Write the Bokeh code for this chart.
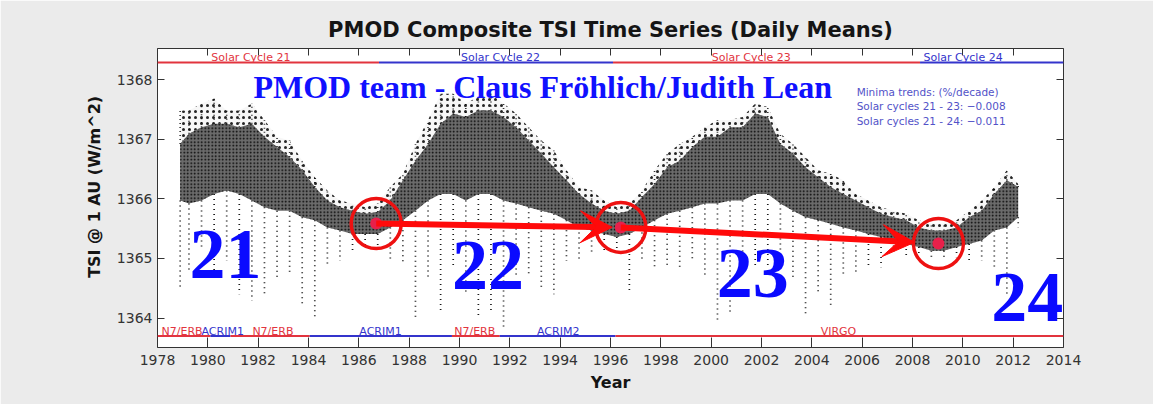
from bokeh.plotting import figure
from bokeh.models import Range1d, LinearAxis, FixedTicker, Label, Arrow, VeeHead, ColumnDataSource
from bokeh.embed import file_html
from bokeh.resources import INLINE

# ---------------- data ----------------
years = [1978.9, 1979.25, 1979.75, 1980.25, 1980.75, 1981.25, 1981.75, 1982.25, 1982.75,
         1983.25, 1983.75, 1984.25, 1984.75, 1985.25, 1985.75, 1986.25, 1986.75, 1987.25,
         1987.75, 1988.25, 1988.75, 1989.25, 1989.75, 1990.25, 1990.75, 1991.25, 1991.75,
         1992.25, 1992.75, 1993.25, 1993.75, 1994.25, 1994.75, 1995.25, 1995.75, 1996.25,
         1996.75, 1997.25, 1997.75, 1998.25, 1998.75, 1999.25, 1999.75, 2000.25, 2000.75,
         2001.25, 2001.75, 2002.25, 2002.75, 2003.25, 2003.75, 2004.25, 2004.75, 2005.25,
         2005.75, 2006.25, 2006.75, 2007.25, 2007.75, 2008.25, 2008.75, 2009.25, 2009.75,
         2010.25, 2010.75, 2011.25, 2011.75, 2012.2]
# highest scattered daily values
tsi_top = [1367.48, 1367.48, 1367.60, 1367.68, 1367.48, 1367.48, 1367.60, 1367.32, 1367.04,
           1366.98, 1366.64, 1366.36, 1366.14, 1365.97, 1365.92, 1365.86, 1365.92, 1366.20,
           1366.42, 1366.92, 1367.32, 1367.76, 1367.76, 1367.60, 1367.71, 1367.76, 1367.60,
           1367.43, 1367.20, 1366.98, 1366.81, 1366.48, 1366.20, 1366.14, 1365.97, 1365.86,
           1365.92, 1366.14, 1366.48, 1366.76, 1366.92, 1367.04, 1367.20, 1367.32, 1367.32,
           1367.37, 1367.60, 1367.54, 1367.09, 1366.92, 1366.70, 1366.48, 1366.42, 1366.31,
           1366.08, 1365.97, 1365.86, 1365.80, 1365.75, 1365.64, 1365.58, 1365.58, 1365.64,
           1365.80, 1365.97, 1366.20, 1366.48, 1366.25]
# upper edge of the dense band
tsi_hi = [1366.92, 1367.09, 1367.20, 1367.26, 1367.26, 1367.20, 1367.26, 1367.04, 1366.87,
          1366.70, 1366.48, 1366.20, 1365.97, 1365.86, 1365.80, 1365.75, 1365.78, 1365.97,
          1366.31, 1366.64, 1366.92, 1367.26, 1367.43, 1367.37, 1367.48, 1367.48, 1367.37,
          1367.20, 1366.98, 1366.76, 1366.53, 1366.31, 1366.08, 1365.92, 1365.80, 1365.75,
          1365.80, 1366.03, 1366.25, 1366.53, 1366.64, 1366.87, 1367.04, 1367.04, 1367.20,
          1367.20, 1367.43, 1367.37, 1366.92, 1366.76, 1366.53, 1366.36, 1366.20, 1366.08,
          1365.97, 1365.86, 1365.75, 1365.69, 1365.64, 1365.52, 1365.47, 1365.47, 1365.52,
          1365.69, 1365.80, 1366.08, 1366.31, 1366.20]
# lower edge of the dense band
tsi_lo = [1365.97, 1365.92, 1365.97, 1366.08, 1366.14, 1366.08, 1365.97, 1365.86, 1365.80,
          1365.80, 1365.69, 1365.64, 1365.52, 1365.47, 1365.41, 1365.41, 1365.41, 1365.52,
          1365.64, 1365.80, 1365.97, 1366.08, 1366.08, 1365.97, 1366.08, 1366.08, 1365.97,
          1365.92, 1365.86, 1365.80, 1365.75, 1365.64, 1365.52, 1365.47, 1365.41, 1365.36,
          1365.41, 1365.52, 1365.64, 1365.75, 1365.80, 1365.86, 1365.92, 1365.92, 1365.97,
          1365.97, 1366.08, 1366.08, 1365.92, 1365.80, 1365.69, 1365.64, 1365.58, 1365.52,
          1365.47, 1365.41, 1365.36, 1365.30, 1365.24, 1365.19, 1365.13, 1365.13, 1365.19,
          1365.24, 1365.30, 1365.47, 1365.52, 1365.69]
# deepest sunspot dips
tsi_dip = [1364.46, 1364.80, 1365.19, 1364.74, 1364.96, 1364.40, 1364.29, 1364.40, 1364.68,
           1364.74, 1364.18, 1364.01, 1364.85, 1364.96, 1365.13, 1365.19, 1365.19, 1364.96,
           1364.91, 1363.96, 1364.68, 1364.12, 1364.85, 1364.40, 1364.01, 1364.07, 1363.84,
           1364.68, 1364.74, 1364.46, 1364.40, 1364.96, 1364.96, 1365.08, 1365.13, 1365.13,
           1364.46, 1364.96, 1364.85, 1364.85, 1364.85, 1364.96, 1364.68, 1363.96, 1364.07,
           1364.74, 1364.85, 1364.85, 1364.85, 1364.63, 1364.07, 1364.40, 1364.18, 1364.74,
           1364.74, 1364.85, 1364.85, 1365.08, 1365.02, 1365.08, 1365.02, 1365.02, 1365.02,
           1364.96, 1364.96, 1364.85, 1364.40, 1365.52]

# solar minima (red circles)
min_years = [1986.69, 1996.41, 2009.03]
min_tsi = [1365.585, 1365.52, 1365.25]

# solar cycles (top bar)
cycle_names = ["Solar Cycle 21", "Solar Cycle 22", "Solar Cycle 23", "Solar Cycle 24"]
cycle_start = [1978.0, 1986.8, 1996.1, 2008.3]
cycle_end = [1986.8, 1996.1, 2008.3, 2014.0]

# instruments (bottom bar)
inst_names = ["N7/ERB", "ACRIM1", "N7/ERB", "ACRIM1", "N7/ERB", "ACRIM2", "VIRGO"]
inst_start = [1978.0, 1980.1, 1980.9, 1984.05, 1989.7, 1991.6, 1996.2]
inst_end = [1980.1, 1980.9, 1984.05, 1989.7, 1991.6, 1996.2, 2014.0]

cycle_numbers = ["21", "22", "23", "24"]
x_ticks = [1978, 1980, 1982, 1984, 1986, 1988, 1990, 1992, 1994, 1996, 1998, 2000,
           2002, 2004, 2006, 2008, 2010, 2012, 2014]
y_ticks = [1364, 1365, 1366, 1367, 1368]

# ---------------- styles ----------------
RED = "#e2343e"
BLUE = "#3434cc"
SANS = "DejaVu Sans"
SERIF = "Liberation Serif"
NB = "\u00a0"

p = figure(width=1153, height=404, x_range=Range1d(1978, 2014),
           y_range=Range1d(1363.506, 1368.521), output_backend="svg",
           toolbar_location=None, background_fill_color="white",
           border_fill_color="#ebebeb", min_border_left=157, min_border_right=90,
           min_border_top=48, min_border_bottom=57)
p.grid.visible = False
p.outline_line_color = "#333333"
p.outline_line_width = 1

p.title.text = "PMOD Composite TSI Time Series (Daily Means)"
p.title.text_font = SANS
p.title.text_font_size = "21px"
p.title.text_font_style = "bold"
p.title.text_color = "#151515"
p.title.align = "center"
p.title.vertical_align = "top"

for ax in (p.xaxis[0], p.yaxis[0]):
    ax.major_label_text_font = SANS
    ax.major_label_text_font_size = "14px"
    ax.major_label_text_color = "#333333"
    ax.axis_label_text_font = SANS
    ax.axis_label_text_font_style = "bold"
    ax.axis_label_text_color = "#151515"
    ax.minor_tick_line_color = None
    ax.major_tick_out = 0
    ax.axis_line_color = None
    ax.major_tick_line_color = "#333333"

p.xaxis.ticker = FixedTicker(ticks=x_ticks)
p.xaxis.major_tick_in = 10
p.xaxis.major_label_standoff = 7
p.xaxis.axis_label = "Year"
p.xaxis.axis_label_text_font_size = "16px"
p.xaxis.axis_label_standoff = 5

p.yaxis.ticker = FixedTicker(ticks=y_ticks)
p.yaxis.major_tick_in = 7
p.yaxis.major_label_standoff = 5
p.yaxis.axis_label = NB * 4 + "TSI @ 1 AU (W/m^2)"
p.yaxis.axis_label_text_font_size = "16px"
p.yaxis.axis_label_standoff = 10

top_ax = LinearAxis(ticker=FixedTicker(ticks=x_ticks), major_tick_in=7, major_tick_out=0,
                    minor_tick_line_color=None, axis_line_color=None,
                    major_label_text_font_size="0px", major_tick_line_color="#333333")
p.add_layout(top_ax, "above")
right_ax = LinearAxis(ticker=FixedTicker(ticks=y_ticks), major_tick_in=7, major_tick_out=0,
                      minor_tick_line_color=None, axis_line_color=None,
                      major_label_text_font_size="0px", major_tick_line_color="#333333")
p.add_layout(right_ax, "right")

src = ColumnDataSource(dict(x=years, top=tsi_top, hi=tsi_hi, lo=tsi_lo, dip=tsi_dip))

# sparse upper scatter
p.varea(x="x", y1="hi", y2="top", source=src, fill_alpha=0.03, fill_color="black",
        hatch_pattern="dot", hatch_color="black", hatch_scale=6, hatch_weight=1.5,
        hatch_alpha=0.85)
p.segment(x0="x", y0="hi", x1="x", y1="top", source=src, line_color="black",
          line_width=1.6, line_dash="1 3", line_alpha=0.8)
# dense band of daily means
p.varea(x="x", y1="lo", y2="hi", source=src, fill_color="black", fill_alpha=0.58,
        hatch_pattern="dot", hatch_color="black", hatch_scale=3.5, hatch_weight=1.8,
        hatch_alpha=1.0)
# sunspot dips
p.segment(x0="x", y0="lo", x1="x", y1="dip", source=src, line_color="black",
          line_width=1.7, line_dash="1 4", line_alpha=0.9)

# top cycle bar
p.segment(x0=cycle_start, y0=[1368.286] * 4, x1=cycle_end, y1=[1368.286] * 4,
          line_color=[RED, BLUE, RED, BLUE], line_width=2)
cyc_label_x = [1980.14, 1990.06, 2000.02, 2008.44]
for name, x, c in zip(cycle_names, cyc_label_x, [RED, BLUE, RED, BLUE]):
    p.add_layout(Label(x=x, y=1368.366, text=name, text_font=SANS, text_font_size="11px",
                       text_color=c, text_baseline="middle"))

# bottom instrument bar
inst_colors = [RED, BLUE, RED, BLUE, RED, BLUE, RED]
p.segment(x0=inst_start, y0=[1363.70] * 7, x1=inst_end, y1=[1363.70] * 7,
          line_color=inst_colors, line_width=2)
inst_label_x = [1978.16, 1979.75, 1981.77, 1986.02, 1989.79, 1993.08, 2004.35]
for name, x, c in zip(inst_names, inst_label_x, inst_colors):
    p.add_layout(Label(x=x, y=1363.775, text=name, text_font=SANS, text_font_size="11px",
                       text_color=c, text_baseline="middle"))

# arrows between minima
for i in range(2):
    x0, y0 = min_years[i], min_tsi[i]
    x1, y1 = min_years[i + 1], min_tsi[i + 1]
    f = 0.965 if i == 0 else 0.925
    p.add_layout(Arrow(end=VeeHead(size=32, fill_color="#ff0a0a", line_color="#ff0a0a"),
                       x_start=x0, y_start=y0,
                       x_end=x0 + f * (x1 - x0), y_end=y0 + f * (y1 - y0),
                       line_color="#ff0a0a", line_width=6))

# minima markers
p.scatter(x=min_years, y=min_tsi, size=12, marker="circle", fill_color="#e8204a",
          line_color=None)
p.scatter(x=min_years, y=min_tsi, size=50, marker="circle", fill_alpha=0,
          line_color="#ee1111", line_width=3.5)

# annotations
p.add_layout(Label(x=1981.81, y=1367.87, text="PMOD team - Claus Fröhlich/Judith Lean",
                   text_font=SERIF, text_font_style="bold", text_font_size="32px",
                   text_color="#1010ff", text_baseline="middle"))
num_pos = [(1979.27, 1365.064), (1989.70, 1364.879), (2000.22, 1364.745), (2011.13, 1364.341)]
for t, (x, y) in zip(cycle_numbers, num_pos):
    p.add_layout(Label(x=x, y=y, text=t, text_font=SERIF, text_font_style="bold",
                       text_font_size="72px", text_color="#0a0aff",
                       text_baseline="middle"))

trend_lines = ["Minima trends: (%/decade)", "Solar cycles 21 - 23: \u22120.008",
               "Solar cycles 21 - 24: \u22120.011"]
for t, y in zip(trend_lines, [1367.787, 1367.551, 1367.30]):
    p.add_layout(Label(x=2005.78, y=y, text=t, text_font=SANS, text_font_size="10.5px",
                       text_color="#5252c8", text_baseline="middle"))

open("out.html", "w").write(file_html(p, INLINE))
